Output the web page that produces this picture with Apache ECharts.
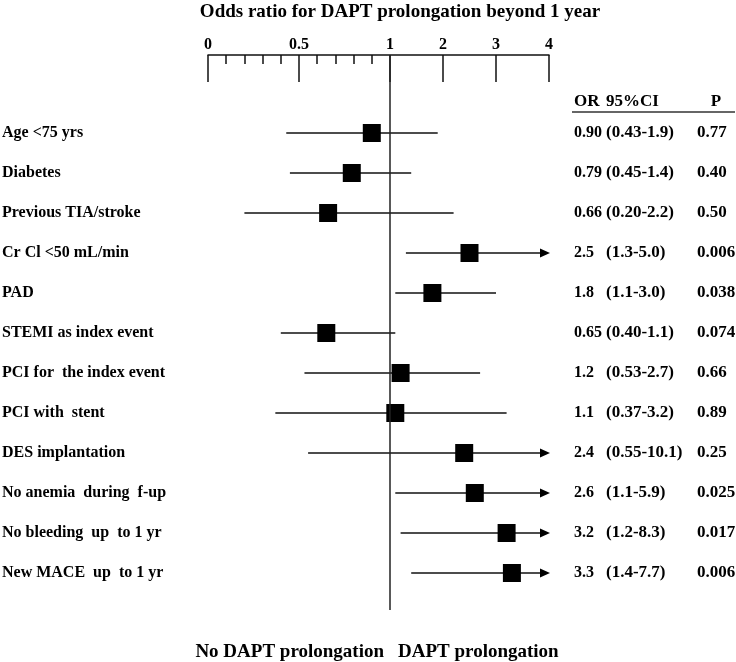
<!DOCTYPE html>
<html>
<head>
<meta charset="utf-8">
<script src="https://cdn.jsdelivr.net/npm/echarts@6/dist/echarts.min.js"></script>
<style>html,body{margin:0;padding:0;background:#fff;}#c{width:736px;height:662px;}</style>
</head>
<body>
<div id="c"></div>
<script>
const categories = ['Age <75 yrs','Diabetes','Previous TIA/stroke','Cr Cl <50 mL/min','PAD','STEMI as index event','PCI for  the index event','PCI with  stent','DES implantation','No anemia  during  f-up','No bleeding  up  to 1 yr','New MACE  up  to 1 yr'];
const orValues = [0.90,0.79,0.66,2.5,1.8,0.65,1.2,1.1,2.4,2.6,3.2,3.3];
const ciLow = [0.43,0.45,0.20,1.3,1.1,0.40,0.53,0.37,0.55,1.1,1.2,1.4];
const ciHigh = [1.9,1.4,2.2,5.0,3.0,1.1,2.7,3.2,10.1,5.9,8.3,7.7];
const orText = ['0.90','0.79','0.66','2.5','1.8','0.65','1.2','1.1','2.4','2.6','3.2','3.3'];
const ciText = ['(0.43-1.9)','(0.45-1.4)','(0.20-2.2)','(1.3-5.0)','(1.1-3.0)','(0.40-1.1)','(0.53-2.7)','(0.37-3.2)','(0.55-10.1)','(1.1-5.9)','(1.2-8.3)','(1.4-7.7)'];
const pText = ['0.77','0.40','0.50','0.006','0.038','0.074','0.66','0.89','0.25','0.025','0.017','0.006'];
const majorTicks = [0,0.5,1,2,3,4];
const minorTicks = [0.1,0.2,0.3,0.4,0.6,0.7,0.8,0.9];
const AXIS_MAX = 4;

// axis scale: linear 0..1, compressed linear 1..4
const SLOPE = 53/182;
function t(v){ return v <= 1 ? v : 1 + (v - 1) * SLOPE; }

const FONT = 'Liberation Serif';
const chart = echarts.init(document.getElementById('c'), null, {renderer:'canvas'});

const yMin = -1.95, yMax = 11.925;
const rows = categories.map((c,i)=>i);

const option = {
  animation: false,
  backgroundColor: '#fff',
  grid: {left: 208, right: 187, top: 55, bottom: 52, containLabel: false, outerBoundsMode: 'none'},
  xAxis: [
    {
      type: 'value', position: 'top', min: 0, max: t(AXIS_MAX),
      axisLine: {show: true, onZero: false, lineStyle: {color: '#111', width: 1.5}},
      axisTick: {show: true, inside: true, length: 27, customValues: majorTicks.map(t), lineStyle: {color: '#111', width: 1.5}},
      axisLabel: {
        show: true, customValues: majorTicks.map(t), margin: 2,
        fontFamily: FONT, fontWeight: 'bold', fontSize: 16, color: '#000',
        formatter: function(v){
          let best = 0, bd = 1e9;
          majorTicks.forEach((m,k)=>{ const d = Math.abs(t(m)-v); if (d < bd){bd=d;best=k;} });
          return String(majorTicks[best]);
        }
      },
      splitLine: {show: false}
    },
    {
      type: 'value', position: 'top', offset: 0, min: 0, max: t(AXIS_MAX),
      axisLine: {show: false, onZero: false},
      axisTick: {show: true, inside: true, length: 9, customValues: minorTicks.map(t), lineStyle: {color: '#111', width: 1.5}},
      axisLabel: {show: false},
      splitLine: {show: false}
    }
  ],
  yAxis: [
    {
      type: 'value', min: yMin, max: yMax, inverse: true,
      axisLine: {show: false, onZero: false}, axisTick: {show: false}, splitLine: {show: false},
      axisLabel: {
        show: true, customValues: rows, align: 'left', margin: 206,
        fontFamily: FONT, fontWeight: 'bold', fontSize: 16, color: '#000',
        formatter: function(v){ return categories[Math.round(v)] || ''; }
      }
    },
    {
      type: 'value', position: 'right', min: yMin, max: yMax, inverse: true,
      axisLine: {show: false, onZero: false}, axisTick: {show: false}, splitLine: {show: false},
      axisLabel: {
        show: true, customValues: rows, align: 'left', margin: 25,
        fontFamily: FONT, fontWeight: 'bold', fontSize: 16, color: '#000',
        formatter: function(v){
          const i = Math.round(v);
          if (i < 0 || i >= categories.length) return '';
          return '{a|' + orText[i] + '}{b|' + ciText[i] + '}{c|' + pText[i] + '}';
        },
        rich: {
          a: {width: 32, fontFamily: FONT, fontWeight: 'bold', fontSize: 16, color: '#000'},
          b: {width: 91, fontFamily: FONT, fontWeight: 'bold', fontSize: 17, color: '#000'},
          c: {fontFamily: FONT, fontWeight: 'bold', fontSize: 17, color: '#000'}
        }
      }
    }
  ],
  graphic: [
    {type: 'text', x: 400, y: 12, style: {text: 'Odds ratio for DAPT prolongation beyond 1 year', font: 'bold 19px "Liberation Serif"', fill: '#000', align: 'center', verticalAlign: 'middle'}},
    {type: 'text', x: 574, y: 102, style: {text: 'OR', font: 'bold 17px "Liberation Serif"', fill: '#000', align: 'left', verticalAlign: 'middle'}},
    {type: 'text', x: 606, y: 102, style: {text: '95%CI', font: 'bold 17px "Liberation Serif"', fill: '#000', align: 'left', verticalAlign: 'middle'}},
    {type: 'text', x: 716, y: 102, style: {text: 'P', font: 'bold 17px "Liberation Serif"', fill: '#000', align: 'center', verticalAlign: 'middle'}},
    {type: 'line', shape: {x1: 572, y1: 112, x2: 735, y2: 112}, style: {stroke: '#333', lineWidth: 1.5}},
    {type: 'text', x: 384, y: 652, style: {text: 'No DAPT prolongation', font: 'bold 19px "Liberation Serif"', fill: '#000', align: 'right', verticalAlign: 'middle'}},
    {type: 'text', x: 398, y: 652, style: {text: 'DAPT prolongation', font: 'bold 19px "Liberation Serif"', fill: '#000', align: 'left', verticalAlign: 'middle'}}
  ],
  series: [
    {
      type: 'custom', xAxisIndex: 0, yAxisIndex: 0, silent: true,
      data: ciLow.map((l,i)=>[t(l), t(Math.min(ciHigh[i], AXIS_MAX)), i, ciHigh[i] > AXIS_MAX ? 1 : 0]),
      renderItem: function(params, api){
        const i = api.value(2);
        const a = api.coord([api.value(0), i]);
        const b = api.coord([api.value(1), i]);
        const arrow = api.value(3) === 1;
        const children = [{
          type: 'line',
          shape: {x1: a[0], y1: a[1], x2: arrow ? b[0] - 6 : b[0], y2: b[1]},
          style: {stroke: '#111', lineWidth: 1.5}
        }];
        if (arrow) {
          children.push({
            type: 'polygon',
            shape: {points: [[b[0] - 9, b[1] - 4.5], [b[0] + 1, b[1]], [b[0] - 9, b[1] + 4.5]]},
            style: {fill: '#000'}
          });
        }
        return {type: 'group', children: children};
      }
    },
    {
      type: 'scatter', xAxisIndex: 0, yAxisIndex: 0, silent: true,
      symbol: 'rect', symbolSize: 18, itemStyle: {color: '#000', opacity: 1},
      data: orValues.map((v,i)=>[t(v), i]),
      markLine: {
        silent: true, symbol: ['none','none'], label: {show: false},
        lineStyle: {color: '#222', width: 1.5, type: 'solid'},
        data: [{xAxis: t(1)}]
      }
    }
  ]
};
chart.setOption(option);
</script>
</body>
</html>
